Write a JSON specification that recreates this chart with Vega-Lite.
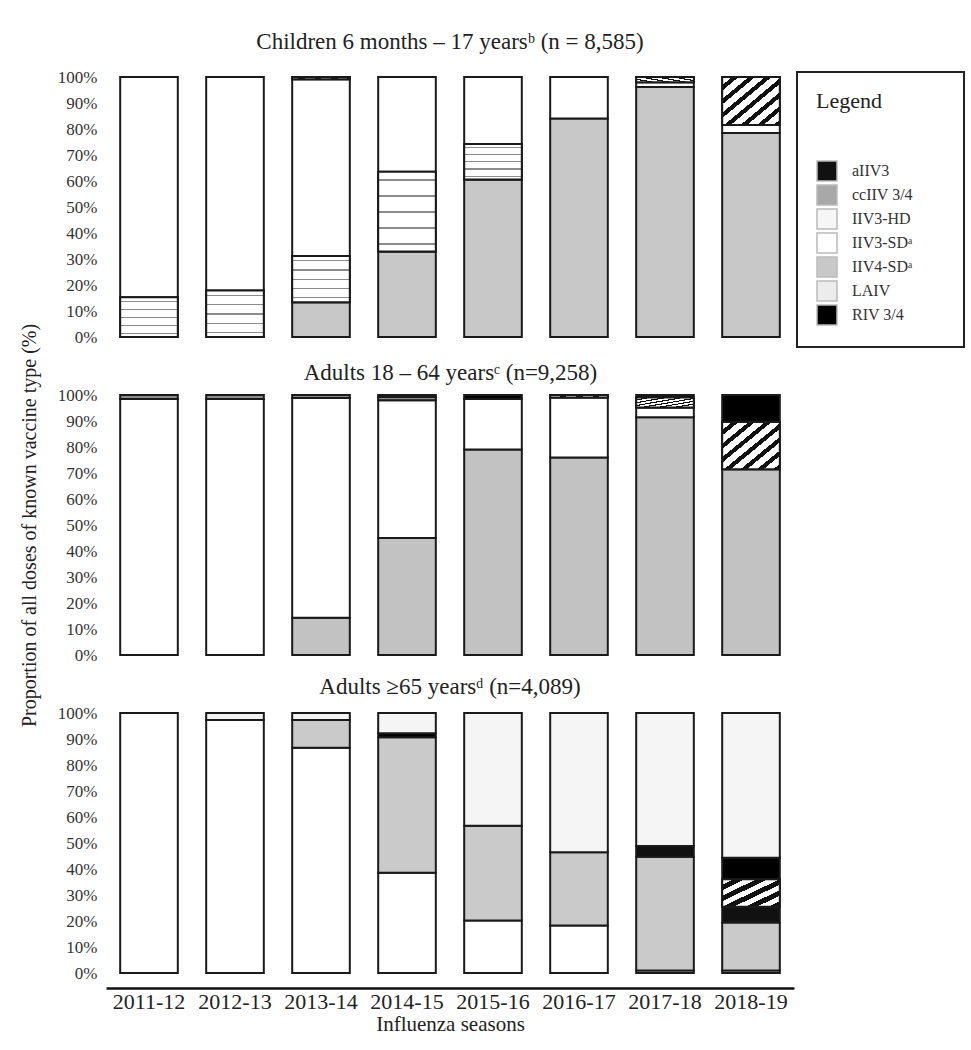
{
  "$schema": "https://vega.github.io/schema/vega-lite/v6.json",
  "background": "white",
  "padding": {"left": 19, "top": 31, "right": 5, "bottom": 5},
  "bounds": "flush",
  "spacing": 58,
  "config": {
    "font": "Liberation Serif",
    "view": {"stroke": null},
    "title": {"font": "Liberation Serif", "fontSize": 23, "fontWeight": "normal", "color": "#222", "anchor": "middle", "offset": 14},
    "axis": {"labelFont": "Liberation Serif", "titleFont": "Liberation Serif", "labelColor": "#333", "titleColor": "#222", "titleFontWeight": "normal", "labelFontSize": 17, "titleFontSize": 20, "grid": false, "domain": false, "ticks": false},
    "legend": {"titleFont": "Liberation Serif", "labelFont": "Liberation Serif"}
  },
  "datasets": {
    "d": [
      {"panel": "c", "season": "2011-12", "type": "LAIV", "pct": 15.3},
      {"panel": "c", "season": "2011-12", "type": "IIV3-SD", "pct": 84.7},
      {"panel": "c", "season": "2012-13", "type": "LAIV", "pct": 17.9},
      {"panel": "c", "season": "2012-13", "type": "IIV3-SD", "pct": 82.1},
      {"panel": "c", "season": "2013-14", "type": "IIV4-SD", "pct": 13.4},
      {"panel": "c", "season": "2013-14", "type": "LAIV", "pct": 17.8},
      {"panel": "c", "season": "2013-14", "type": "IIV3-SD", "pct": 67.9},
      {"panel": "c", "season": "2013-14", "type": "ccIIV 3/4", "pct": 0.9},
      {"panel": "c", "season": "2014-15", "type": "IIV4-SD", "pct": 32.9},
      {"panel": "c", "season": "2014-15", "type": "LAIV", "pct": 30.7},
      {"panel": "c", "season": "2014-15", "type": "IIV3-SD", "pct": 36.4},
      {"panel": "c", "season": "2015-16", "type": "IIV4-SD", "pct": 60.6},
      {"panel": "c", "season": "2015-16", "type": "LAIV", "pct": 13.6},
      {"panel": "c", "season": "2015-16", "type": "IIV3-SD", "pct": 25.8},
      {"panel": "c", "season": "2016-17", "type": "IIV4-SD", "pct": 84.0},
      {"panel": "c", "season": "2016-17", "type": "IIV3-SD", "pct": 16.0},
      {"panel": "c", "season": "2017-18", "type": "IIV4-SD", "pct": 96.2},
      {"panel": "c", "season": "2017-18", "type": "IIV3-SD", "pct": 1.8},
      {"panel": "c", "season": "2017-18", "type": "ccIIV 3/4", "pct": 2.0},
      {"panel": "c", "season": "2018-19", "type": "IIV4-SD", "pct": 78.5},
      {"panel": "c", "season": "2018-19", "type": "IIV3-SD", "pct": 3.0},
      {"panel": "c", "season": "2018-19", "type": "ccIIV 3/4", "pct": 18.5},

      {"panel": "a", "season": "2011-12", "type": "IIV3-SD", "pct": 98.5},
      {"panel": "a", "season": "2011-12", "type": "LAIV", "pct": 1.5},
      {"panel": "a", "season": "2012-13", "type": "IIV3-SD", "pct": 98.5},
      {"panel": "a", "season": "2012-13", "type": "LAIV", "pct": 1.5},
      {"panel": "a", "season": "2013-14", "type": "IIV4-SD", "pct": 14.3},
      {"panel": "a", "season": "2013-14", "type": "IIV3-SD", "pct": 84.5},
      {"panel": "a", "season": "2013-14", "type": "LAIV", "pct": 1.2},
      {"panel": "a", "season": "2014-15", "type": "IIV4-SD", "pct": 45.0},
      {"panel": "a", "season": "2014-15", "type": "IIV3-SD", "pct": 53.0},
      {"panel": "a", "season": "2014-15", "type": "LAIV", "pct": 1.2},
      {"panel": "a", "season": "2014-15", "type": "RIV 3/4", "pct": 0.8},
      {"panel": "a", "season": "2015-16", "type": "IIV4-SD", "pct": 79.0},
      {"panel": "a", "season": "2015-16", "type": "IIV3-SD", "pct": 19.5},
      {"panel": "a", "season": "2015-16", "type": "RIV 3/4", "pct": 1.5},
      {"panel": "a", "season": "2016-17", "type": "IIV4-SD", "pct": 76.0},
      {"panel": "a", "season": "2016-17", "type": "IIV3-SD", "pct": 23.0},
      {"panel": "a", "season": "2016-17", "type": "ccIIV 3/4", "pct": 1.0},
      {"panel": "a", "season": "2017-18", "type": "IIV4-SD", "pct": 91.4},
      {"panel": "a", "season": "2017-18", "type": "IIV3-SD", "pct": 3.8},
      {"panel": "a", "season": "2017-18", "type": "ccIIV 3/4", "pct": 3.8},
      {"panel": "a", "season": "2017-18", "type": "RIV 3/4", "pct": 1.0},
      {"panel": "a", "season": "2018-19", "type": "IIV4-SD", "pct": 71.4},
      {"panel": "a", "season": "2018-19", "type": "ccIIV 3/4", "pct": 18.2},
      {"panel": "a", "season": "2018-19", "type": "RIV 3/4", "pct": 10.4},

      {"panel": "s", "season": "2011-12", "type": "IIV3-SD", "pct": 100},
      {"panel": "s", "season": "2012-13", "type": "IIV3-SD", "pct": 97.3},
      {"panel": "s", "season": "2012-13", "type": "IIV3-HD", "pct": 2.7},
      {"panel": "s", "season": "2013-14", "type": "IIV3-SD", "pct": 86.6},
      {"panel": "s", "season": "2013-14", "type": "IIV4-SD", "pct": 10.7},
      {"panel": "s", "season": "2013-14", "type": "IIV3-HD", "pct": 2.7},
      {"panel": "s", "season": "2014-15", "type": "IIV3-SD", "pct": 38.6},
      {"panel": "s", "season": "2014-15", "type": "IIV4-SD", "pct": 52.1},
      {"panel": "s", "season": "2014-15", "type": "RIV 3/4", "pct": 1.5},
      {"panel": "s", "season": "2014-15", "type": "IIV3-HD", "pct": 7.8},
      {"panel": "s", "season": "2015-16", "type": "IIV3-SD", "pct": 20.2},
      {"panel": "s", "season": "2015-16", "type": "IIV4-SD", "pct": 36.4},
      {"panel": "s", "season": "2015-16", "type": "IIV3-HD", "pct": 43.4},
      {"panel": "s", "season": "2016-17", "type": "IIV3-SD", "pct": 18.3},
      {"panel": "s", "season": "2016-17", "type": "IIV4-SD", "pct": 28.1},
      {"panel": "s", "season": "2016-17", "type": "IIV3-HD", "pct": 53.6},
      {"panel": "s", "season": "2017-18", "type": "IIV3-SD", "pct": 1.0},
      {"panel": "s", "season": "2017-18", "type": "IIV4-SD", "pct": 43.7},
      {"panel": "s", "season": "2017-18", "type": "aIIV3", "pct": 4.1},
      {"panel": "s", "season": "2017-18", "type": "IIV3-HD", "pct": 51.2},
      {"panel": "s", "season": "2018-19", "type": "IIV3-SD", "pct": 1.0},
      {"panel": "s", "season": "2018-19", "type": "IIV4-SD", "pct": 18.4},
      {"panel": "s", "season": "2018-19", "type": "aIIV3", "pct": 6.1},
      {"panel": "s", "season": "2018-19", "type": "ccIIV 3/4", "pct": 10.6},
      {"panel": "s", "season": "2018-19", "type": "RIV 3/4", "pct": 8.2},
      {"panel": "s", "season": "2018-19", "type": "IIV3-HD", "pct": 55.7}
    ]
  },
  "resolve": {"scale": {"color": "independent"}, "legend": {"color": "independent"}},
  "vconcat": [
    {
      "title": {"text": "Children 6 months – 17 yearsᵇ (n = 8,585)", "offset": 14},
      "width": 688, "height": 260,
      "data": {"name": "d"},
      "transform": [
        {"filter": "datum.panel === 'c'"},
        {"calculate": "indexof(['IIV4-SD','LAIV','IIV3-SD','IIV3-HD','aIIV3','ccIIV 3/4','RIV 3/4'], datum.type)", "as": "ord"},
        {"stack": "pct", "groupby": ["season"], "sort": [{"field": "ord", "order": "ascending"}], "as": ["y0", "y1"]}
      ],
      "encoding": {
        "x": {"field": "season", "type": "nominal", "scale": {"paddingInner": 0.33, "paddingOuter": 0.165}, "axis": null},
        "y": {"field": "y0", "type": "quantitative", "scale": {"domain": [0, 100]},
              "axis": {"values": [0,10,20,30,40,50,60,70,80,90,100], "labelExpr": "datum.value + '%'", "title": null, "labelPadding": 9}},
        "y2": {"field": "y1"}
      },
      "layer": [
        {
          "mark": {"type": "bar", "stroke": "#1a1a1a", "strokeWidth": 2},
          "encoding": {
            "color": {
              "field": "type", "type": "nominal",
              "scale": {
                "domain": ["aIIV3", "ccIIV 3/4", "IIV3-HD", "IIV3-SD", "IIV4-SD", "LAIV", "RIV 3/4"],
                "range": ["#111111", "#a8a8a8", "#f6f6f6", "#ffffff", "#c8c8c8", "#ececec", "#000000"]
              },
              "legend": {
                "title": "Legend", "orient": "none", "legendX": 691, "legendY": -5,
                "strokeColor": "#222", "fillColor": "white", "padding": 19,
                "titleFontSize": 22, "titleFontWeight": "normal", "titleColor": "#222", "titlePadding": 47,
                "labelFontSize": 16, "labelColor": "#333", "labelOffset": 14, "labelLimit": 300,
                "labelExpr": "(datum.label === 'IIV3-SD' || datum.label === 'IIV4-SD' ? datum.label + 'ᵃ' : datum.label) + '\u00a0\u00a0\u00a0\u00a0\u00a0\u2800'",
                "symbolType": "square", "symbolSize": 400, "symbolStrokeColor": "#bbbbbb", "symbolStrokeWidth": 1.5, "rowPadding": -7,
                "encode": {"legend": {"update": {"strokeWidth": {"value": 2}}}}
              }
            }
          }
        },
        {
          "transform": [{"filter": "datum.type === 'ccIIV 3/4'"}],
          "mark": {"type": "bar", "stroke": "#1a1a1a", "strokeWidth": 2,
            "fill": {"gradient": "linear", "x1": 0, "y1": 0, "x2": 1, "y2": 1, "stops": [
              {"offset": 0, "color": "#ffffff"}, {"offset": 0.0857, "color": "#ffffff"}, {"offset": 0.0857, "color": "#111111"}, {"offset": 0.1429, "color": "#111111"},
              {"offset": 0.1429, "color": "#ffffff"}, {"offset": 0.2286, "color": "#ffffff"}, {"offset": 0.2286, "color": "#111111"}, {"offset": 0.2857, "color": "#111111"},
              {"offset": 0.2857, "color": "#ffffff"}, {"offset": 0.3714, "color": "#ffffff"}, {"offset": 0.3714, "color": "#111111"}, {"offset": 0.4286, "color": "#111111"},
              {"offset": 0.4286, "color": "#ffffff"}, {"offset": 0.5143, "color": "#ffffff"}, {"offset": 0.5143, "color": "#111111"}, {"offset": 0.5714, "color": "#111111"},
              {"offset": 0.5714, "color": "#ffffff"}, {"offset": 0.6571, "color": "#ffffff"}, {"offset": 0.6571, "color": "#111111"}, {"offset": 0.7143, "color": "#111111"},
              {"offset": 0.7143, "color": "#ffffff"}, {"offset": 0.8, "color": "#ffffff"}, {"offset": 0.8, "color": "#111111"}, {"offset": 0.8571, "color": "#111111"},
              {"offset": 0.8571, "color": "#ffffff"}, {"offset": 0.9429, "color": "#ffffff"}, {"offset": 0.9429, "color": "#111111"}, {"offset": 1, "color": "#111111"}
            ]}}
        },
        {
          "transform": [{"filter": "datum.type === 'LAIV'"}],
          "mark": {"type": "bar", "stroke": "#1a1a1a", "strokeWidth": 2,
            "fill": {"gradient": "linear", "x1": 0, "y1": 0, "x2": 0, "y2": 1, "stops": [
              {"offset": 0, "color": "#ffffff"}, {"offset": 0.09, "color": "#ffffff"}, {"offset": 0.09, "color": "#8c8c8c"}, {"offset": 0.12, "color": "#8c8c8c"}, {"offset": 0.12, "color": "#ffffff"},
              {"offset": 0.29, "color": "#ffffff"}, {"offset": 0.29, "color": "#8c8c8c"}, {"offset": 0.32, "color": "#8c8c8c"}, {"offset": 0.32, "color": "#ffffff"},
              {"offset": 0.49, "color": "#ffffff"}, {"offset": 0.49, "color": "#8c8c8c"}, {"offset": 0.52, "color": "#8c8c8c"}, {"offset": 0.52, "color": "#ffffff"},
              {"offset": 0.69, "color": "#ffffff"}, {"offset": 0.69, "color": "#8c8c8c"}, {"offset": 0.72, "color": "#8c8c8c"}, {"offset": 0.72, "color": "#ffffff"},
              {"offset": 0.89, "color": "#ffffff"}, {"offset": 0.89, "color": "#8c8c8c"}, {"offset": 0.92, "color": "#8c8c8c"}, {"offset": 0.92, "color": "#ffffff"},
              {"offset": 1, "color": "#ffffff"}
            ]}}
        }
      ]
    },
    {
      "width": 688, "height": 260,
      "data": {"name": "d"},
      "transform": [
        {"filter": "datum.panel === 'a'"},
        {"calculate": "indexof(['IIV4-SD','IIV3-SD','LAIV','IIV3-HD','aIIV3','ccIIV 3/4','RIV 3/4'], datum.type)", "as": "ord"},
        {"stack": "pct", "groupby": ["season"], "sort": [{"field": "ord", "order": "ascending"}], "as": ["y0", "y1"]}
      ],
      "encoding": {
        "x": {"field": "season", "type": "nominal", "scale": {"paddingInner": 0.33, "paddingOuter": 0.165},
              "axis": {"orient": "top", "labels": false, "ticks": false, "domain": false, "title": "Adults 18 – 64 yearsᶜ (n=9,258)", "titleFontSize": 23, "titleColor": "#222", "titlePadding": 11}},
        "y": {"field": "y0", "type": "quantitative", "scale": {"domain": [0, 100]},
              "axis": {"values": [0,10,20,30,40,50,60,70,80,90,100], "labelExpr": "datum.value + '%'", "title": "Proportion of all doses of known vaccine type (%)", "titlePadding": 18, "labelPadding": 9}},
        "y2": {"field": "y1"}
      },
      "layer": [
        {
          "mark": {"type": "bar", "stroke": "#1a1a1a", "strokeWidth": 2},
          "encoding": {
            "color": {
              "field": "type", "type": "nominal", "legend": null,
              "scale": {
                "domain": ["aIIV3", "ccIIV 3/4", "IIV3-HD", "IIV3-SD", "IIV4-SD", "LAIV", "RIV 3/4"],
                "range": ["#111111", "#777777", "#f6f6f6", "#ffffff", "#c2c2c2", "#8c8c8c", "#000000"]
              }
            }
          }
        },
        {
          "transform": [{"filter": "datum.type === 'ccIIV 3/4'"}],
          "mark": {"type": "bar", "stroke": "#1a1a1a", "strokeWidth": 2,
            "fill": {"gradient": "linear", "x1": 0, "y1": 0, "x2": 1, "y2": 1, "stops": [
              {"offset": 0, "color": "#ffffff"}, {"offset": 0.0857, "color": "#ffffff"}, {"offset": 0.0857, "color": "#111111"}, {"offset": 0.1429, "color": "#111111"},
              {"offset": 0.1429, "color": "#ffffff"}, {"offset": 0.2286, "color": "#ffffff"}, {"offset": 0.2286, "color": "#111111"}, {"offset": 0.2857, "color": "#111111"},
              {"offset": 0.2857, "color": "#ffffff"}, {"offset": 0.3714, "color": "#ffffff"}, {"offset": 0.3714, "color": "#111111"}, {"offset": 0.4286, "color": "#111111"},
              {"offset": 0.4286, "color": "#ffffff"}, {"offset": 0.5143, "color": "#ffffff"}, {"offset": 0.5143, "color": "#111111"}, {"offset": 0.5714, "color": "#111111"},
              {"offset": 0.5714, "color": "#ffffff"}, {"offset": 0.6571, "color": "#ffffff"}, {"offset": 0.6571, "color": "#111111"}, {"offset": 0.7143, "color": "#111111"},
              {"offset": 0.7143, "color": "#ffffff"}, {"offset": 0.8, "color": "#ffffff"}, {"offset": 0.8, "color": "#111111"}, {"offset": 0.8571, "color": "#111111"},
              {"offset": 0.8571, "color": "#ffffff"}, {"offset": 0.9429, "color": "#ffffff"}, {"offset": 0.9429, "color": "#111111"}, {"offset": 1, "color": "#111111"}
            ]}}
        }
      ]
    },
    {
      "title": {"text": "Adults ≥65 yearsᵈ (n=4,089)", "offset": 5},
      "width": 688, "height": 260,
      "data": {"name": "d"},
      "transform": [
        {"filter": "datum.panel === 's'"},
        {"calculate": "indexof(['IIV3-SD','IIV4-SD','LAIV','aIIV3','ccIIV 3/4','RIV 3/4','IIV3-HD'], datum.type)", "as": "ord"},
        {"stack": "pct", "groupby": ["season"], "sort": [{"field": "ord", "order": "ascending"}], "as": ["y0", "y1"]}
      ],
      "encoding": {
        "x": {"field": "season", "type": "nominal", "scale": {"paddingInner": 0.33, "paddingOuter": 0.165},
              "axis": {"title": "Influenza seasons", "labelAngle": 0, "labelFontSize": 22, "labelColor": "#222", "titleFontSize": 21, "domain": true, "domainColor": "#111", "domainWidth": 2.5, "offset": 15, "labelPadding": 3, "titlePadding": 1}},
        "y": {"field": "y0", "type": "quantitative", "scale": {"domain": [0, 100]},
              "axis": {"values": [0,10,20,30,40,50,60,70,80,90,100], "labelExpr": "datum.value + '%'", "title": null, "labelPadding": 9}},
        "y2": {"field": "y1"}
      },
      "layer": [
        {
          "mark": {"type": "bar", "stroke": "#1a1a1a", "strokeWidth": 2},
          "encoding": {
            "color": {
              "field": "type", "type": "nominal", "legend": null,
              "scale": {
                "domain": ["aIIV3", "ccIIV 3/4", "IIV3-HD", "IIV3-SD", "IIV4-SD", "LAIV", "RIV 3/4"],
                "range": ["#111111", "#777777", "#f5f5f5", "#ffffff", "#cacaca", "#eeeeee", "#000000"]
              }
            }
          }
        },
        {
          "transform": [{"filter": "datum.type === 'ccIIV 3/4'"}],
          "mark": {"type": "bar", "stroke": "#1a1a1a", "strokeWidth": 2,
            "fill": {"gradient": "linear", "x1": 0, "y1": 0, "x2": 1, "y2": 1, "stops": [
              {"offset": 0, "color": "#ffffff"}, {"offset": 0.1, "color": "#ffffff"}, {"offset": 0.1, "color": "#111111"}, {"offset": 0.2, "color": "#111111"},
              {"offset": 0.2, "color": "#ffffff"}, {"offset": 0.3, "color": "#ffffff"}, {"offset": 0.3, "color": "#111111"}, {"offset": 0.4, "color": "#111111"},
              {"offset": 0.4, "color": "#ffffff"}, {"offset": 0.5, "color": "#ffffff"}, {"offset": 0.5, "color": "#111111"}, {"offset": 0.6, "color": "#111111"},
              {"offset": 0.6, "color": "#ffffff"}, {"offset": 0.7, "color": "#ffffff"}, {"offset": 0.7, "color": "#111111"}, {"offset": 0.8, "color": "#111111"},
              {"offset": 0.8, "color": "#ffffff"}, {"offset": 0.9, "color": "#ffffff"}, {"offset": 0.9, "color": "#111111"}, {"offset": 1, "color": "#111111"}
            ]}}
        }
      ]
    }
  ]
}
